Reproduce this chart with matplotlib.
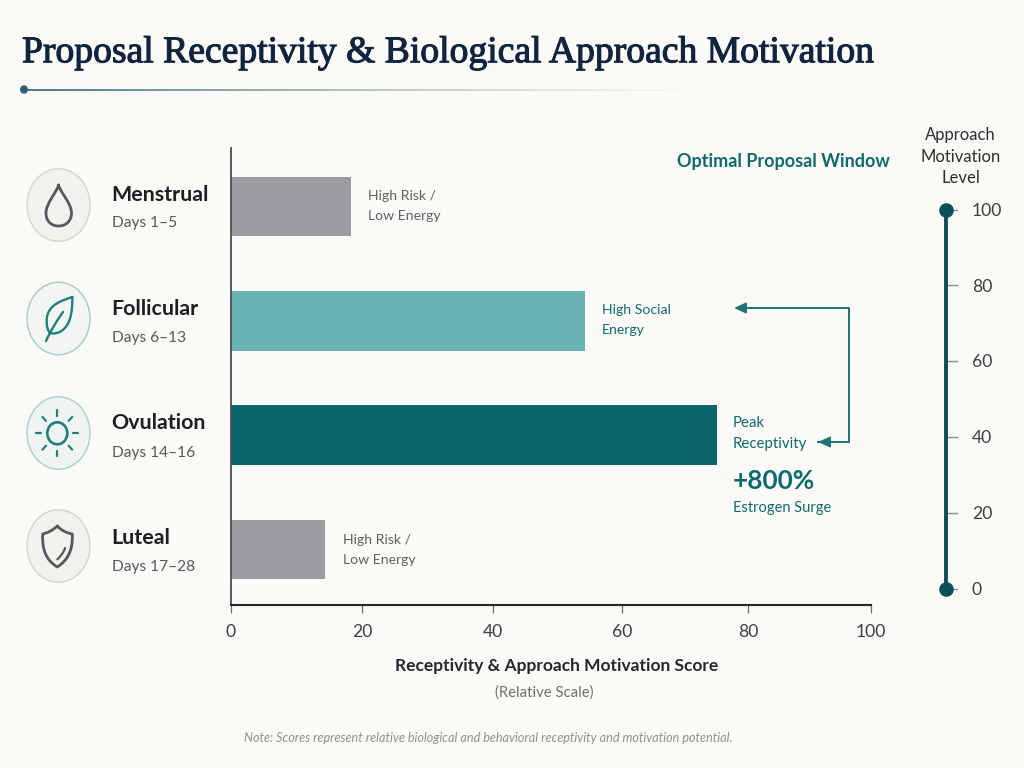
import numpy as np
import matplotlib
matplotlib.use("Agg")
import matplotlib.pyplot as plt
import matplotlib.patheffects as pe
from matplotlib.path import Path
from matplotlib.patches import PathPatch, Ellipse
from matplotlib.collections import LineCollection

# Chart data
phases = ["Menstrual", "Follicular", "Ovulation", "Luteal"]
day_ranges = ["Days 1–5", "Days 6–13", "Days 14–16", "Days 17–28"]
scores = [18.3, 54.3, 75.0, 14.4]
bar_notes = ["High Risk /\nLow Energy", "High Social\nEnergy", "", "High Risk /\nLow Energy"]
score_ticks = [0, 20, 40, 60, 80, 100]
level_ticks = [0, 20, 40, 60, 80, 100]
# The score axis is slightly compressed toward its upper end
scale_stops = [0, 20, 40, 60, 80, 100]
scale_positions = [0, 131, 262, 391, 517, 640]

BG = "#FCFAF7"
INK = "#1E2730"
NAVY = "#10233F"
TEAL = "#0F6A6E"
GREY_TXT = "#5C6166"
bar_colors = ["#9A9C9F", "#66B3B2", "#0A6569", "#9A9C9F"]
SANS = "Lato"

W, H = 1024, 768
plt.rcParams["font.family"] = SANS
fig = plt.figure(figsize=(W / 100, H / 100), dpi=100, facecolor=BG)


def rect(x0, y0, x1, y1):
    return [x0 / W, 1 - y1 / H, (x1 - x0) / W, (y1 - y0) / H]


# Main horizontal bars
ax = fig.add_axes(rect(231, 148, 871, 605), facecolor="none")
ax.set_xscale("function", functions=(
    lambda v: np.interp(v, scale_stops, scale_positions),
    lambda p: np.interp(p, scale_positions, scale_stops)))
ax.barh(range(len(phases)), scores, height=0.52, color=bar_colors, zorder=2)
ax.set_xlim(0, 100)
ax.set_ylim(3.487, -0.513)
ax.set_xticks(score_ticks)
ax.set_xticklabels([str(t) for t in score_ticks], fontsize=12.6, color="#3B4046")
ax.minorticks_off()
ax.set_yticks([])
ax.tick_params(axis="x", length=6, width=0.9, color="#6A6E72", pad=8)
for s in ("top", "right"):
    ax.spines[s].set_visible(False)
ax.spines["left"].set_color("#4A4F58")
ax.spines["left"].set_linewidth(1.3)
ax.spines["bottom"].set_color("#23282E")
ax.spines["bottom"].set_linewidth(1.5)

# Approach motivation gauge
gauge = fig.add_axes(rect(946, 209.5, 956, 589), facecolor="none")
gauge.set_xlim(0, 1)
gauge.set_ylim(0, 100)
gauge.set_xticks([])
gauge.set_yticks([])
for s in ("top", "right", "bottom"):
    gauge.spines[s].set_visible(False)
gauge.spines["left"].set_color("#0C4F5A")
gauge.spines["left"].set_linewidth(2.8)
for t in level_ticks:
    gauge.plot([0, 1.1], [t, t], color="#8A8D8F", lw=1, zorder=1, clip_on=False)
    gauge.text(2.6, t - 0.3, str(t), fontsize=12.6, color="#3B4046", va="center", ha="left")
gauge.plot([0, 0], [0, 100], "o", color="#0C4F5A", ms=9.5, clip_on=False, zorder=3)

# Overlay in pixel units for labels, icons and annotations
ov = fig.add_axes([0, 0, 1, 1], facecolor="none")
ov.set_xlim(0, W)
ov.set_ylim(H, 0)
ov.axis("off")


def label(x, y, s, size, color=INK, weight="normal", ha="left", style="normal", family=SANS):
    return ov.text(x, y, s, fontsize=size, color=color, fontweight=weight, ha=ha, va="center",
                   fontstyle=style, family=family)


# Title and fading rule
title = label(22, 53, "Proposal Receptivity & Biological Approach Motivation", 27.1, NAVY,
              family="Liberation Serif")
title.set_path_effects([pe.withStroke(linewidth=0.8, foreground=NAVY)])
xs = np.linspace(24, 720, 160)
segs = [[(a, 89.5), (b, 89.5)] for a, b in zip(xs[:-1], xs[1:])]
fade = np.linspace(1, 0, len(segs)) ** 1.3
cols = [(0.17, 0.37, 0.47, a) for a in fade]
ov.add_collection(LineCollection(segs, colors=cols, linewidths=1.2))
ov.add_patch(Ellipse((24, 89.5), 6.5, 7, color="#2B5F77"))

# Phase badges
centers_y = [205, 318.5, 433, 546]
fills = ["#F2F1EE", "#F3F5F2", "#EFF4F2", "#F2F1EE"]
edges = ["#D6D4CF", "#A3CBC8", "#A8D0CC", "#D6D4CF"]
name_y = [195, 309, 423, 538]
days_y = [223, 338, 453, 567]
for i, cy in enumerate(centers_y):
    ov.add_patch(Ellipse((58.5, cy), 63, 72.5, facecolor=fills[i], edgecolor=edges[i], lw=1))
    label(111.5, name_y[i], phases[i], 15.4, "#1B2027", "bold")
    label(112, days_y[i], day_ranges[i], 11.2, "#555A60")

GI = "#55585C"
GT = "#1F7F7C"
M, C, L = Path.MOVETO, Path.CURVE4, Path.LINETO


def stroke(verts, codes, color, lw=1.7):
    ov.add_patch(PathPatch(Path(verts, codes), fill=False, edgecolor=color, lw=lw,
                           capstyle="round", joinstyle="round"))


# Droplet
stroke([(58.5, 185), (60, 192), (71.5, 203), (71.5, 213), (71.5, 221), (66, 226), (58.5, 226),
        (51, 226), (46, 221), (46, 213), (46, 203), (57, 192), (58.5, 185)],
       [M, C, C, C, C, C, C, C, C, C, C, C, C], GI, 2)
# Leaf
stroke([(72.3, 297), (64, 300), (47, 304), (46.7, 320), (46.5, 326), (47.5, 330), (50, 333),
        (58, 335), (66, 330), (69.5, 320), (72, 313), (72.5, 305), (72.3, 297)],
       [M, C, C, C, C, C, C, C, C, C, C, C, C], GT)
stroke([(46, 341), (50, 332), (56, 322), (63, 312)], [M, C, C, C], GT)
# Sun
ov.add_patch(Ellipse((57.3, 433.3), 20, 22, fill=False, edgecolor=GT, lw=1.9))
for a in np.deg2rad(np.arange(0, 360, 45)):
    r0, r1 = (16, 21)
    ov.plot([57.3 + r0 * np.cos(a), 57.3 + r1 * np.cos(a)],
            [433.3 + 1.1 * r0 * np.sin(a), 433.3 + 1.1 * r1 * np.sin(a)],
            color=GT, lw=1.6, solid_capstyle="round")
# Shield
stroke([(57.3, 526), (52, 531), (47, 533), (42.7, 534), (42, 550), (46, 560), (57.3, 567),
        (68, 560), (73, 550), (72.3, 534), (67, 533), (62, 531), (57.3, 526)],
       [M, C, C, C, C, C, C, C, C, C, C, C, C], GI, 2)
stroke([(65, 548), (63.5, 553), (60, 557), (57.3, 559.3)], [M, C, C, C], GI, 1.6)

# Notes beside the bars
note_x = [368, 602, None, 343]
note_y = [206, 320.5, None, 550]
note_c = [GREY_TXT, TEAL, None, GREY_TXT]
for i, n in enumerate(bar_notes):
    if n:
        ov.text(note_x[i], note_y[i], n, fontsize=10.1, color=note_c[i], va="center", ha="left",
                linespacing=1.8)

label(677, 161, "Optimal Proposal Window", 13, TEAL, "bold")
ov.text(733, 433.5, "Peak\nReceptivity", fontsize=10.8, color=TEAL, va="center", ha="left", linespacing=1.7)
label(733, 481, "+800%", 18.9, TEAL, "bold")
label(733, 508, "Estrogen Surge", 10.5, TEAL)

# Bracket arrows linking the two high-energy phases
ARW = "#1F7478"
ov.plot([750, 849, 849, 818], [308, 308, 442, 442], color=ARW, lw=1.4, solid_joinstyle="miter")
ov.annotate("", xy=(734, 308), xytext=(752, 308),
            arrowprops=dict(arrowstyle="-|>,head_length=0.7,head_width=0.32", color=ARW, lw=1.4,
                            shrinkA=0, shrinkB=0))
ov.annotate("", xy=(818, 442), xytext=(832, 442),
            arrowprops=dict(arrowstyle="-|>,head_length=0.7,head_width=0.32", color=ARW, lw=1.4,
                            shrinkA=0, shrinkB=0))

# Gauge heading
ov.text(960.5, 156.5, "Approach\nMotivation\nLevel", fontsize=12, color="#2A2F35", ha="center",
        va="center", linespacing=1.4)

# Axis captions and footnote
label(556.5, 666, "Receptivity & Approach Motivation Score", 12.55, "#23282E", "bold", ha="center")
label(544, 693, "(Relative Scale)", 10.7, "#6A6F74", ha="center")
label(488, 738, "Note: Scores represent relative biological and behavioral receptivity and motivation potential.",
      9.05, "#8C9094", ha="center", style="italic")

fig.savefig("out.png", dpi=100, facecolor=BG)
